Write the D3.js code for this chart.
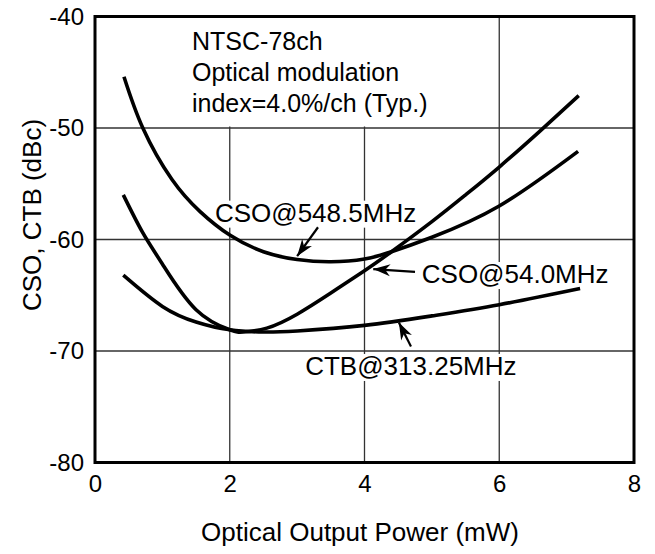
<!DOCTYPE html>
<html>
<head>
<meta charset="utf-8">
<script src="https://cdn.jsdelivr.net/npm/d3@7"></script>
<style>
  body { margin: 0; background: #fff; }
  svg text { font-family: "Liberation Sans", Arial, Helvetica, sans-serif; fill: #000; }
</style>
</head>
<body>
<div id="chart"></div>
<script>
// values
var xTicks = [0, 2, 4, 6, 8],
    yTicks = [-80, -70, -60, -50, -40];

var cso548x = [0.43, 0.71, 1.14, 1.56, 2.0, 2.5, 3.0, 3.5, 4.0, 4.4, 5.0, 6.0, 7.17],
    cso548y = [-45.4, -50.0, -54.6, -57.5, -59.6, -61.1, -61.8, -62.0, -61.75, -61.1, -59.8, -57.0, -52.1];

var cso54x = [0.42, 0.7, 1.0, 1.5, 2.0, 2.2, 2.55, 3.0, 3.5, 4.0, 4.4, 5.0, 5.5, 6.0, 6.6, 7.18],
    cso54y = [-56.0, -59.3, -62.2, -66.3, -68.1, -68.3, -67.95, -66.7, -64.8, -62.8, -61.1, -58.4, -56.0, -53.5, -50.3, -47.1];

var ctbx = [0.42, 1.0, 1.5, 2.0, 2.5, 3.0, 4.0, 5.0, 6.0, 7.2],
    ctby = [-63.2, -66.0, -67.4, -68.1, -68.3, -68.2, -67.7, -66.85, -65.85, -64.4];

var noteLines = ['NTSC-78ch', 'Optical modulation', 'index=4.0%/ch (Typ.)'],
    seriesNames = ['CSO@548.5MHz', 'CSO@54.0MHz', 'CTB@313.25MHz'];

var xTitle = 'Optical Output Power (mW)',
    yTitle = 'CSO, CTB (dBc)';

(function () {
    'use strict';

    var width = 655, height = 554,
        left = 95, right = 634, top = 16.5, bottom = 462.5;

    var x = d3.scaleLinear().domain([0, 8]).range([left, right]),
        y = d3.scaleLinear().domain([-80, -40]).range([bottom, top]);

    var svg = d3.select('#chart').append('svg')
        .attr('width', width)
        .attr('height', height);

    svg.append('defs').append('marker')
        .attr('id', 'head')
        .attr('viewBox', '-18 -7 20 14')
        .attr('markerWidth', 20)
        .attr('markerHeight', 14)
        .attr('markerUnits', 'userSpaceOnUse')
        .attr('refX', 0)
        .attr('refY', 0)
        .attr('orient', 'auto')
        .append('path')
        .attr('d', 'M0,0L-17,-6L-12,0L-17,6Z')
        .attr('fill', '#000');

    // grid
    var grid = svg.append('g');
    grid.selectAll('.vg').data(xTicks.slice(1, -1)).enter().append('line')
        .attr('x1', function (d) { return x(d); })
        .attr('x2', function (d) { return x(d); })
        .attr('y1', top).attr('y2', bottom)
        .attr('stroke', '#333').attr('stroke-width', 1.3);
    grid.selectAll('.hg').data(yTicks.slice(1, -1)).enter().append('line')
        .attr('y1', function (d) { return y(d); })
        .attr('y2', function (d) { return y(d); })
        .attr('x1', left).attr('x2', right)
        .attr('stroke', '#333').attr('stroke-width', 1.3);

    // note block in the upper left, white behind it
    var noteBg = svg.append('rect').attr('fill', '#fff');
    var note = svg.append('g').attr('font-size', 25);
    note.selectAll('text').data(noteLines).enter().append('text')
        .attr('x', 192)
        .attr('y', function (d, i) { return 50 + i * 31; })
        .text(function (d) { return d; });
    var nb = note.node().getBBox();
    noteBg.attr('x', nb.x - 8).attr('y', top)
        .attr('width', nb.width + 16)
        .attr('height', y(-50) - top - 1.5);

    // curves
    var line = d3.line()
        .x(function (d) { return x(d[0]); })
        .y(function (d) { return y(d[1]); })
        .curve(d3.curveNatural);

    var series = [d3.zip(cso548x, cso548y), d3.zip(cso54x, cso54y), d3.zip(ctbx, ctby)];

    // series labels with arrows, in data units
    var labelAt = [[1.78, -58.4], [4.85, -63.9], [3.12, -72.15]],
        arrows = [
            [[3.31, -58.9], [3.0, -61.5]],
            [[4.75, -62.9], [4.13, -62.65]],
            [[4.69, -69.6], [4.51, -67.45]]
        ];

    var labels = svg.append('g').attr('font-size', 26);
    seriesNames.forEach(function (name, i) {
        var bg = labels.append('rect').attr('fill', '#fff');
        var t = labels.append('text')
            .attr('x', x(labelAt[i][0]))
            .attr('y', y(labelAt[i][1]))
            .text(name);
        var b = t.node().getBBox();
        bg.attr('x', b.x - 4).attr('y', b.y + 3)
            .attr('width', b.width + 8).attr('height', b.height - 3);
    });

    svg.append('g').selectAll('path').data(series).enter().append('path')
        .attr('d', line)
        .attr('fill', 'none')
        .attr('stroke', '#000')
        .attr('stroke-width', 3.6);

    svg.append('g').selectAll('line').data(arrows).enter().append('line')
        .attr('x1', function (d) { return x(d[0][0]); })
        .attr('y1', function (d) { return y(d[0][1]); })
        .attr('x2', function (d) { return x(d[1][0]); })
        .attr('y2', function (d) { return y(d[1][1]); })
        .attr('stroke', '#000')
        .attr('stroke-width', 2.2)
        .attr('marker-end', 'url(#head)');

    // frame
    svg.append('rect')
        .attr('x', left).attr('y', top)
        .attr('width', right - left).attr('height', bottom - top)
        .attr('fill', 'none')
        .attr('stroke', '#000')
        .attr('stroke-width', 3);

    // axes: labels only, plain hyphen for minus
    var fmt = function (d) { return String(d); };
    var xAxis = svg.append('g')
        .attr('transform', 'translate(0,' + bottom + ')')
        .call(d3.axisBottom(x).tickValues(xTicks).tickFormat(fmt).tickSize(0).tickPadding(12));
    var yAxis = svg.append('g')
        .attr('transform', 'translate(' + left + ',0)')
        .call(d3.axisLeft(y).tickValues(yTicks).tickFormat(fmt).tickSize(0).tickPadding(11));
    [xAxis, yAxis].forEach(function (a) {
        a.select('.domain').remove();
        a.selectAll('text')
            .attr('font-size', 24)
            .attr('font-family', '"Liberation Sans", Arial, Helvetica, sans-serif')
            .attr('fill', '#000');
    });

    svg.append('text')
        .attr('x', 360)
        .attr('y', 541)
        .attr('text-anchor', 'middle')
        .attr('font-size', 26)
        .text(xTitle);

    svg.append('text')
        .attr('transform', 'translate(41,' + 215 + ') rotate(-90)')
        .attr('text-anchor', 'middle')
        .attr('font-size', 26)
        .text(yTitle);
})();
</script>
</body>
</html>
